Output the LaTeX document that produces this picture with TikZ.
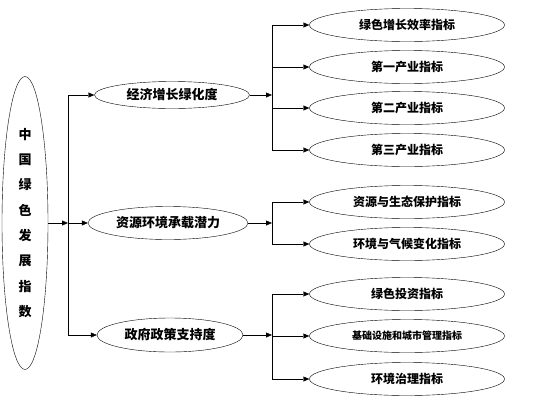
\documentclass[tikz,border=0pt]{standalone}
\usepackage{fontspec}
\newfontfamily\cjk{Noto Sans CJK SC}
\usetikzlibrary{arrows.meta, shapes.geometric}

\begin{document}
\begin{tikzpicture}[x=1pt, y=-1pt,
  oval/.style={draw, ellipse, thin, inner sep=0pt, minimum width=195, minimum height=33,
    font=\cjk\bfseries\fontsize{12}{14}\selectfont},
  mid/.style={oval, font=\cjk\bfseries\fontsize{13}{15}\selectfont},
  arr/.style={-{Triangle[length=6pt,width=5pt]}, thin}]
  \useasboundingbox (0,0) rectangle (546,410);
  % Indice global
  \node[oval, minimum width=46, minimum height=293, align=center,
    font=\cjk\bfseries\fontsize{13}{25.3}\selectfont] (root) at (25,223)
    {中\\国\\绿\\色\\发\\展\\指\\数};
  % Trois dimensions
  \node[mid, minimum width=155, minimum height=27] (eg) at (172,95) {经济增长绿化度};
  \node[mid, minimum width=160, minimum height=33] (zy) at (168,223) {资源环境承载潜力};
  \node[mid, minimum width=146, minimum height=34] (zf) at (170,335) {政府政策支持度};
  % Indicateurs
  \node[oval] (r1) at (407,25) {绿色增长效率指标};
  \node[oval] (r2) at (407,67) {第一产业指标};
  \node[oval] (r3) at (407,108) {第二产业指标};
  \node[oval] (r4) at (407,150) {第三产业指标};
  \node[oval] (r5) at (407,202) {资源与生态保护指标};
  \node[oval] (r6) at (407,244) {环境与气候变化指标};
  \node[oval] (r7) at (407,294) {绿色投资指标};
  \node[oval, font=\cjk\bfseries\fontsize{10}{12}\selectfont] (r8) at (407,336) {基础设施和城市管理指标};
  \node[oval] (r9) at (407,379) {环境治理指标};
  % Liaisons racine -> dimensions
  \coordinate (j0) at (68,223);
  \draw[arr] (root.east) -- (j0);
  \draw (j0 |- eg.west) -- (j0 |- zf.west);
  \draw[arr] (j0 |- eg.west) -- (eg.west);
  \draw[arr] (j0) -- (zy.west);
  \draw[arr] (j0 |- zf.west) -- (zf.west);
  % Liaisons dimensions -> indicateurs
  \coordinate (j1) at (272,95);
  \coordinate (j2) at (272,223);
  \coordinate (j3) at (272,335);
  \draw[arr] (eg.east) -- (j1);
  \draw[arr] (zy.east) -- (j2);
  \draw[arr] (zf.east) -- (j3);
  \draw (j1 |- r1.west) -- (j1 |- r4.west);
  \draw (j2 |- r5.west) -- (j2 |- r6.west);
  \draw (j3 |- r7.west) -- (j3 |- r9.west);
  \draw[arr] (j1 |- r1.west) -- (r1.west);
  \draw[arr] (j1 |- r2.west) -- (r2.west);
  \draw[arr] (j1 |- r3.west) -- (r3.west);
  \draw[arr] (j1 |- r4.west) -- (r4.west);
  \draw[arr] (j2 |- r5.west) -- (r5.west);
  \draw[arr] (j2 |- r6.west) -- (r6.west);
  \draw[arr] (j3 |- r7.west) -- (r7.west);
  \draw[arr] (j3 |- r8.west) -- (r8.west);
  \draw[arr] (j3 |- r9.west) -- (r9.west);
\end{tikzpicture}
\end{document}
